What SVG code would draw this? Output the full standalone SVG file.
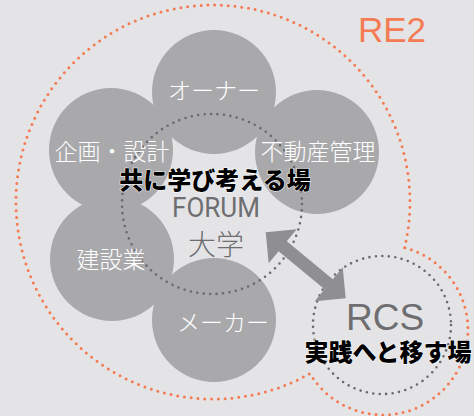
<svg xmlns="http://www.w3.org/2000/svg" width="474" height="416" viewBox="0 0 474 416">
<style>
.bg{fill:#e4e4e6}
.orange{fill:none;stroke:#f47b53;stroke-width:3;stroke-linecap:round;stroke-dasharray:0 6.8}
.dark{fill:none;stroke:#6b6b6e;stroke-width:2.6;stroke-linecap:round;stroke-dasharray:0 6.5}
.node{fill:#a9a9ac}
.wt{fill:#ffffff;font-family:"Noto Sans CJK JP",sans-serif;font-size:23px;font-weight:300;text-anchor:middle}
.bold{fill:#000000;font-family:"Noto Sans CJK JP",sans-serif;font-size:24px;font-weight:900;text-anchor:middle}
.gray{fill:#6e6e71;text-anchor:middle}
.arrow{fill:#8f8f92}
</style>
<rect class="bg" x="0" y="0" width="474" height="416"/>
<g id="re2-boundary">
<path class="orange" d="M404.6 247.7 A197 197 0 1 0 310 373.5 A85 85 0 1 0 404.6 247.7"/>
<text x="358" y="42" fill="#f47b53" font-family="'Liberation Sans',Arial,sans-serif" font-size="35">RE2</text>
</g>
<g id="owner"><circle class="node" cx="214" cy="92" r="62"/></g>
<g id="planning"><circle class="node" cx="111" cy="150" r="62"/></g>
<g id="property"><circle class="node" cx="317" cy="152" r="62"/></g>
<g id="construction"><circle class="node" cx="112" cy="259" r="62"/></g>
<g id="maker"><circle class="node" cx="214" cy="320" r="62"/></g>
<g id="forum">
<circle class="dark" cx="212" cy="204" r="90"/>
</g>
<g id="rcs">
<circle class="dark" cx="382" cy="325" r="69"/>
</g>
<g id="connectors">
<polygon class="arrow" points="265.7,232.3 296.7,229.3 286.8,241.3 332.8,279.3 342.7,267.3 345.7,298.3 314.7,301.3 324.6,289.3 278.6,251.3 268.7,263.3"/>
</g>
<g id="labels">
<text class="wt" x="214" y="99">オーナー</text>
<text class="wt" x="112" y="160">企画・設計</text>
<text class="wt" x="318" y="160">不動産管理</text>
<text class="wt" x="111" y="268">建設業</text>
<text class="wt" x="223" y="331">メーカー</text>
<text class="bold" x="215" y="189" stroke="#ffffff" stroke-width="1" paint-order="stroke">共に学び考える場</text>
<text class="gray" x="216" y="217" font-family="Roboto,'Liberation Sans',sans-serif" font-size="28" font-weight="400" textLength="88" lengthAdjust="spacingAndGlyphs">FORUM</text>
<text class="gray" x="216" y="255" font-family="'Noto Sans CJK JP',sans-serif" font-size="28" font-weight="300">大学</text>
<text class="gray" x="385" y="330" font-family="'Liberation Sans',Arial,sans-serif" font-size="37">RCS</text>
<text class="bold" x="388" y="361" stroke="#ffffff" stroke-width="1" paint-order="stroke">実践へと移す場</text>
</g>
</svg>
